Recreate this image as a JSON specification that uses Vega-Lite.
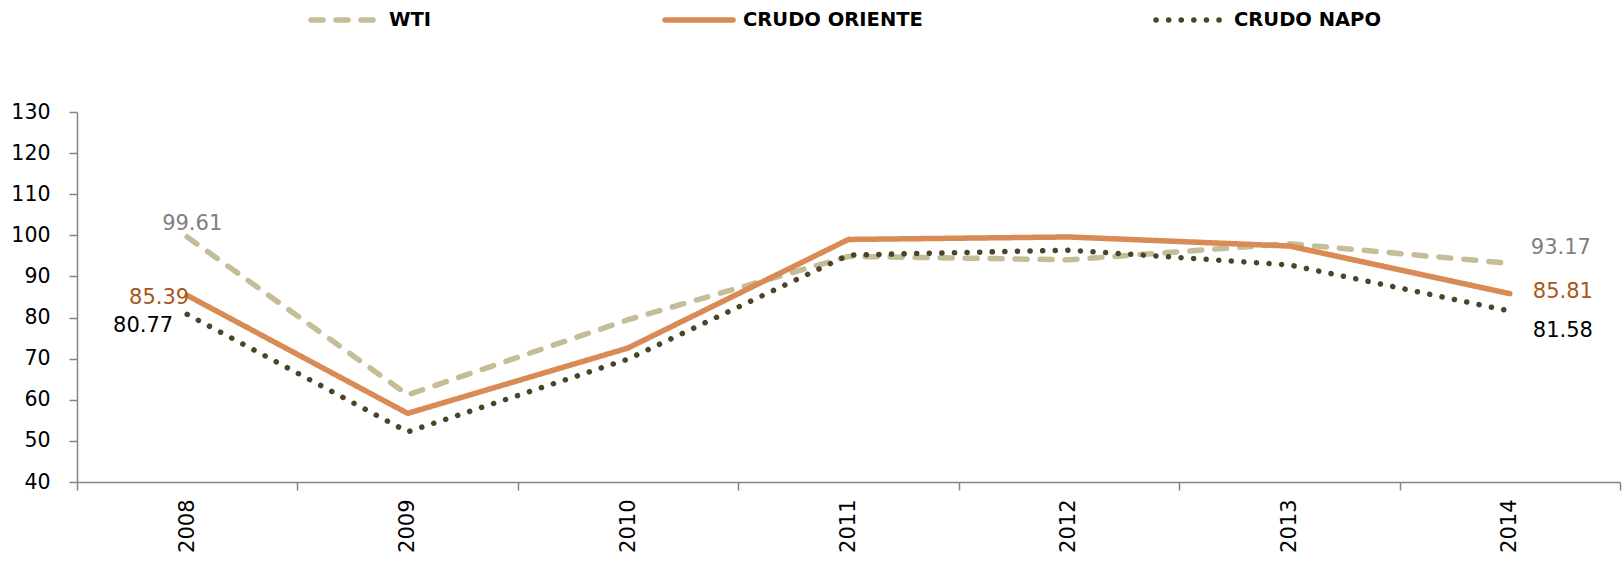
{
  "$schema": "https://vega.github.io/schema/vega-lite/v6.json",
  "width": 1543,
  "height": 370,
  "autosize": "none",
  "padding": {"left": 77, "top": 112, "right": 3, "bottom": 81},
  "background": "white",
  "config": {"view": {"stroke": null}, "font": "DejaVu Sans"},
  "data": {
    "values": [
      {"series": "WTI", "year": "2008", "value": 99.61},
      {"series": "WTI", "year": "2009", "value": 61.2},
      {"series": "WTI", "year": "2010", "value": 79.48},
      {"series": "WTI", "year": "2011", "value": 94.88},
      {"series": "WTI", "year": "2012", "value": 94.05},
      {"series": "WTI", "year": "2013", "value": 97.98},
      {"series": "WTI", "year": "2014", "value": 93.17},
      {"series": "CRUDO ORIENTE", "year": "2008", "value": 85.39},
      {"series": "CRUDO ORIENTE", "year": "2009", "value": 56.7},
      {"series": "CRUDO ORIENTE", "year": "2010", "value": 72.6},
      {"series": "CRUDO ORIENTE", "year": "2011", "value": 99.0},
      {"series": "CRUDO ORIENTE", "year": "2012", "value": 99.6},
      {"series": "CRUDO ORIENTE", "year": "2013", "value": 97.4},
      {"series": "CRUDO ORIENTE", "year": "2014", "value": 85.81},
      {"series": "CRUDO NAPO", "year": "2008", "value": 80.77},
      {"series": "CRUDO NAPO", "year": "2009", "value": 52.2},
      {"series": "CRUDO NAPO", "year": "2010", "value": 69.9},
      {"series": "CRUDO NAPO", "year": "2011", "value": 95.2},
      {"series": "CRUDO NAPO", "year": "2012", "value": 96.4},
      {"series": "CRUDO NAPO", "year": "2013", "value": 92.8},
      {"series": "CRUDO NAPO", "year": "2014", "value": 81.58}
    ]
  },
  "encoding": {
    "x": {
      "field": "year",
      "type": "ordinal",
      "bandPosition": 0.5,
      "scale": {"type": "band", "paddingInner": 0, "paddingOuter": 0},
      "axis": {
        "title": null,
        "labelAngle": -90,
        "labelAlign": "right",
        "labelBaseline": "middle",
        "tickBand": "extent",
        "domainColor": "#868686",
        "domainWidth": 1.5,
        "tickColor": "#868686",
        "tickWidth": 1.5,
        "tickSize": 8,
        "labelPadding": 9,
        "labelFontSize": 21,
        "labelColor": "#000000",
        "labelFont": "DejaVu Sans",
        "grid": false
      }
    },
    "y": {
      "field": "value",
      "type": "quantitative",
      "scale": {"domain": [40, 130], "nice": false, "zero": false},
      "axis": {
        "title": null,
        "values": [40, 50, 60, 70, 80, 90, 100, 110, 120, 130],
        "grid": false,
        "domainColor": "#868686",
        "domainWidth": 1.5,
        "tickColor": "#868686",
        "tickWidth": 1.5,
        "tickSize": 8,
        "labelPadding": 19,
        "labelFontSize": 20.5,
        "labelColor": "#000000",
        "labelFont": "DejaVu Sans"
      }
    }
  },
  "layer": [
    {
      "mark": {"type": "line", "strokeWidth": 5.5, "strokeCap": "round", "strokeJoin": "round"},
      "encoding": {
        "color": {
          "field": "series",
          "type": "nominal",
          "sort": ["WTI", "CRUDO ORIENTE", "CRUDO NAPO"],
          "scale": {"domain": ["WTI", "CRUDO ORIENTE", "CRUDO NAPO"], "range": ["#c4bd97", "#d98b55", "#4a452a"]},
          "legend": {
            "title": null,
            "orient": "none",
            "legendX": 231,
            "legendY": -129,
            "direction": "horizontal",
            "columns": 3,
            "columnPadding": 222,
            "symbolType": "stroke",
            "symbolSize": 4624,
            "symbolStrokeWidth": 5.5,
            "labelOffset": 7,
            "labelLimit": 400,
            "labelFont": "DejaVu Sans",
            "labelFontWeight": "bold",
            "labelFontSize": 19.5,
            "labelColor": "#000000",
            "encode": {"symbols": {"update": {"strokeCap": {"value": "round"}}}}
          }
        },
        "strokeDash": {
          "field": "series",
          "type": "nominal",
          "sort": ["WTI", "CRUDO ORIENTE", "CRUDO NAPO"],
          "scale": {"domain": ["WTI", "CRUDO ORIENTE", "CRUDO NAPO"], "range": [[12, 13], [1, 0], [0.1, 12.5]]},
          "legend": {
            "title": null,
            "orient": "none",
            "legendX": 231,
            "legendY": -129,
            "direction": "horizontal",
            "columns": 3,
            "columnPadding": 222,
            "symbolType": "stroke",
            "symbolSize": 4624,
            "symbolStrokeWidth": 5.5,
            "labelOffset": 7,
            "labelLimit": 400,
            "labelFont": "DejaVu Sans",
            "labelFontWeight": "bold",
            "labelFontSize": 19.5,
            "labelColor": "#000000",
            "encode": {"symbols": {"update": {"strokeCap": {"value": "round"}}}}
          }
        }
      }
    },
    {
      "transform": [{"filter": "datum.series === 'WTI' && datum.year === '2008'"}],
      "mark": {"type": "text", "align": "center", "baseline": "alphabetic", "dx": 5, "dy": -7, "fontSize": 21, "color": "#808080"},
      "encoding": {"text": {"field": "value", "type": "quantitative", "format": ".2f"}}
    },
    {
      "transform": [{"filter": "datum.series === 'CRUDO ORIENTE' && datum.year === '2008'"}],
      "mark": {"type": "text", "align": "right", "baseline": "alphabetic", "dx": 2, "dy": 9, "fontSize": 21, "color": "#a9561a"},
      "encoding": {"text": {"field": "value", "type": "quantitative", "format": ".2f"}}
    },
    {
      "transform": [{"filter": "datum.series === 'CRUDO NAPO' && datum.year === '2008'"}],
      "mark": {"type": "text", "align": "right", "baseline": "alphabetic", "dx": -14, "dy": 18, "fontSize": 21, "color": "#000000"},
      "encoding": {"text": {"field": "value", "type": "quantitative", "format": ".2f"}}
    },
    {
      "transform": [{"filter": "datum.series === 'WTI' && datum.year === '2014'"}],
      "mark": {"type": "text", "align": "left", "baseline": "alphabetic", "dx": 21, "dy": -9, "fontSize": 21, "color": "#808080"},
      "encoding": {"text": {"field": "value", "type": "quantitative", "format": ".2f"}}
    },
    {
      "transform": [{"filter": "datum.series === 'CRUDO ORIENTE' && datum.year === '2014'"}],
      "mark": {"type": "text", "align": "left", "baseline": "alphabetic", "dx": 23, "dy": 4, "fontSize": 21, "color": "#a9561a"},
      "encoding": {"text": {"field": "value", "type": "quantitative", "format": ".2f"}}
    },
    {
      "transform": [{"filter": "datum.series === 'CRUDO NAPO' && datum.year === '2014'"}],
      "mark": {"type": "text", "align": "left", "baseline": "alphabetic", "dx": 23, "dy": 26, "fontSize": 21, "color": "#000000"},
      "encoding": {"text": {"field": "value", "type": "quantitative", "format": ".2f"}}
    }
  ]
}
